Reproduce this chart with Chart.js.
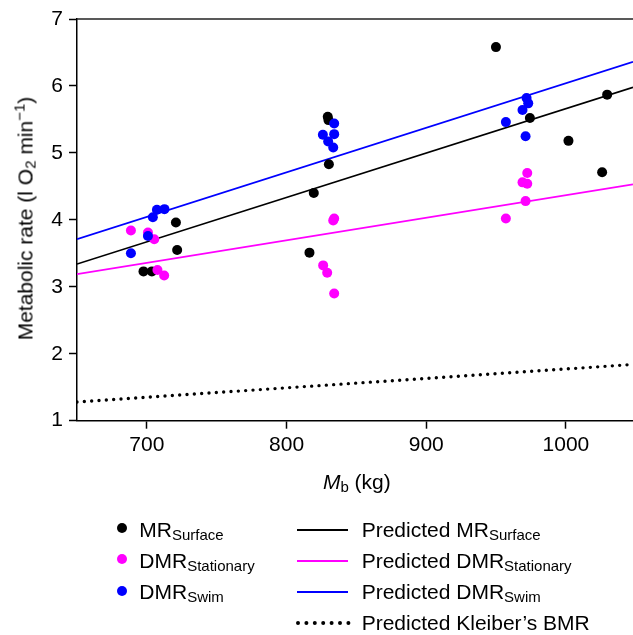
<!DOCTYPE html>
<html><head><meta charset="utf-8">
<script src="https://cdn.jsdelivr.net/npm/chart.js@4.4.0/dist/chart.umd.min.js"></script>
<style>
html,body{margin:0;padding:0;background:#fff;}
#wrap{position:relative;width:633px;height:635px;overflow:hidden;font-family:"Liberation Sans",Arial,sans-serif;color:#000;}
canvas{position:absolute;left:0;top:0;}
.t{position:absolute;font-size:21px;line-height:1;white-space:nowrap;}
.s{font-size:15px;position:relative;top:3px;}
.p{font-size:15px;position:relative;top:-8px;}
.dot{position:absolute;width:10px;height:10px;border-radius:50%;}
.ln{position:absolute;height:2px;width:51px;}
</style></head><body>
<div id="wrap">
<canvas id="c" width="633" height="635"></canvas>
<div class="t" id="ytitle" style="left:-124.8px;top:208.2px;width:300px;text-align:center;transform:rotate(-90deg);">Metabolic rate (l O<span class="s">2</span> min<span class="p">−1</span>)</div>
<div class="t" id="xtitle" style="left:206.8px;top:470.7px;width:300px;text-align:center;"><i>M</i><span class="s">b</span> (kg)</div>
<div id="legend"></div>
</div>
<script>
// ---- data ----
const xTicks = [700, 800, 900, 1000];
const yTicks = [1, 2, 3, 4, 5, 6, 7];

const mrSurfaceMass = [697.6, 703.6, 720.8, 721.7, 816.4, 819.5, 829.5, 830.0, 830.3, 949.9, 974.2, 1001.8, 1029.5, 1025.9];
const mrSurfaceRate = [3.23, 3.23, 3.96, 3.55, 3.51, 4.40, 5.54, 5.49, 4.83, 6.58, 5.52, 5.18, 5.87, 4.71];

const dmrStationaryMass = [688.6, 700.8, 705.3, 707.6, 712.4, 826.2, 829.1, 834.1, 834.1, 833.4, 957.0, 971.1, 968.9, 972.3, 972.3];
const dmrStationaryRate = [3.84, 3.81, 3.71, 3.25, 3.17, 3.32, 3.21, 2.90, 4.02, 3.99, 4.02, 4.28, 4.56, 4.54, 4.70];

const dmrSwimMass = [688.6, 700.8, 704.3, 707.2, 712.6, 826.0, 834.1, 829.8, 834.1, 833.4, 957.0, 968.9, 973.0, 971.8, 971.1];
const dmrSwimRate = [3.50, 3.76, 4.04, 4.15, 4.16, 5.27, 5.44, 5.17, 5.28, 5.08, 5.46, 5.64, 5.74, 5.82, 5.25];

const lineMass = [650, 1048];
const predMRSurface = [3.34, 5.98];
const predDMRStationary = [3.19, 4.53];
const predDMRSwim = [3.71, 6.36];
const predKleiberBMR = [1.28, 1.84];

const legendLeft = [
  {name: 'MR', sub: 'Surface', color: '#000000'},
  {name: 'DMR', sub: 'Stationary', color: '#ff00ff'},
  {name: 'DMR', sub: 'Swim', color: '#0000ff'}
];
const legendRight = [
  {name: 'Predicted MR', sub: 'Surface', color: '#000000', dotted: false},
  {name: 'Predicted DMR', sub: 'Stationary', color: '#ff00ff', dotted: false},
  {name: 'Predicted DMR', sub: 'Swim', color: '#0000ff', dotted: false},
  {name: 'Predicted Kleiber’s BMR', sub: '', color: '#000000', dotted: true}
];

const FONT = '"Liberation Sans", Arial, sans-serif';
const pts = (xs, ys) => xs.map((x, i) => ({x, y: ys[i]}));

// ---- legend (HTML) ----
const baselines = [536.7, 567.8, 598.9, 630.0];
const asc = 17.78;
const lg = document.getElementById('legend');
let html = '';
legendLeft.forEach((it, i) => {
  const b = baselines[i];
  html += `<div class="dot" style="left:116.7px;top:${b - 8.4 - 5}px;background:${it.color}"></div>`;
  html += `<div class="t" style="left:139.3px;top:${b - asc}px">${it.name}<span class="s">${it.sub}</span></div>`;
});
legendRight.forEach((it, i) => {
  const b = baselines[i];
  if (it.dotted) {
    html += `<svg style="position:absolute;left:290px;top:${b - 6.7 - 5}px" width="66" height="10"><line x1="8" y1="5" x2="58.4" y2="5" stroke="#000" stroke-width="4" stroke-linecap="round" stroke-dasharray="0 8.4"/></svg>`;
  } else {
    html += `<div class="ln" style="left:297px;top:${b - 6.7 - 1}px;background:${it.color}"></div>`;
  }
  html += `<div class="t" style="left:361.7px;top:${b - asc}px">${it.name}${it.sub ? `<span class="s">${it.sub}</span>` : ''}</div>`;
});
lg.innerHTML = html;

// ---- chart ----
const topBorder = {
  id: 'topBorder',
  afterDraw(chart) {
    const {ctx, chartArea: a} = chart;
    ctx.save();
    ctx.strokeStyle = '#222';
    ctx.lineWidth = 1.5;
    ctx.beginPath();
    ctx.moveTo(a.left, a.top);
    ctx.lineTo(a.right, a.top);
    ctx.stroke();
    ctx.restore();
  }
};

new Chart(document.getElementById('c'), {
  type: 'scatter',
  data: {
    datasets: [
      {label: 'DMR Swim', data: pts(dmrSwimMass, dmrSwimRate), backgroundColor: '#0000ff', borderColor: '#0000ff', pointRadius: 5, pointBorderWidth: 0, order: 0},
      {label: 'DMR Stationary', data: pts(dmrStationaryMass, dmrStationaryRate), backgroundColor: '#ff00ff', borderColor: '#ff00ff', pointRadius: 5, pointBorderWidth: 0, order: 1},
      {label: 'MR Surface', data: pts(mrSurfaceMass, mrSurfaceRate), backgroundColor: '#000000', borderColor: '#000000', pointRadius: 5, pointBorderWidth: 0, order: 2},
      {type: 'line', label: 'Predicted MR Surface', data: pts(lineMass, predMRSurface), borderColor: '#000000', borderWidth: 1.7, pointRadius: 0, showLine: true, fill: false, order: 3},
      {type: 'line', label: 'Predicted DMR Stationary', data: pts(lineMass, predDMRStationary), borderColor: '#ff00ff', borderWidth: 1.7, pointRadius: 0, showLine: true, fill: false, order: 4},
      {type: 'line', label: 'Predicted DMR Swim', data: pts(lineMass, predDMRSwim), borderColor: '#0000ff', borderWidth: 1.7, pointRadius: 0, showLine: true, fill: false, order: 5},
      {type: 'line', label: 'Predicted Kleiber’s BMR', data: pts(lineMass, predKleiberBMR), borderColor: '#000000', borderWidth: 3.4, borderDash: [0, 7.35], borderCapStyle: 'round', pointRadius: 0, showLine: true, fill: false, order: 6}
    ]
  },
  options: {
    responsive: false,
    animation: false,
    devicePixelRatio: 1,
    layout: {autoPadding: false, padding: {top: 19, left: 0, right: 0, bottom: 174.3}},
    plugins: {legend: {display: false}, tooltip: {enabled: false}, title: {display: false}},
    scales: {
      x: {
        type: 'linear', position: 'bottom', min: 650, max: 1048,
        afterBuildTicks: s => { s.ticks = xTicks.map(v => ({value: v})); },
        afterFit: s => { s.height = 40; },
        grid: {drawOnChartArea: false, drawTicks: true, tickLength: 8, tickColor: '#000', tickWidth: 1.5},
        border: {display: true, color: '#000', width: 1.5},
        ticks: {font: {family: FONT, size: 21}, color: '#000', padding: 4, maxRotation: 0, autoSkip: false, callback: v => String(v)}
      },
      y: {
        type: 'linear', position: 'left', min: 1, max: 7,
        afterBuildTicks: s => { s.ticks = yTicks.map(v => ({value: v})); },
        afterFit: s => { s.width = 77; },
        grid: {drawOnChartArea: false, drawTicks: true, tickLength: 8, tickColor: '#000', tickWidth: 1.5},
        border: {display: true, color: '#000', width: 1.5},
        ticks: {font: {family: FONT, size: 21}, color: '#000', padding: 6, autoSkip: false, callback: v => String(v)}
      }
    }
  },
  plugins: [topBorder]
});
</script>
</body></html>
